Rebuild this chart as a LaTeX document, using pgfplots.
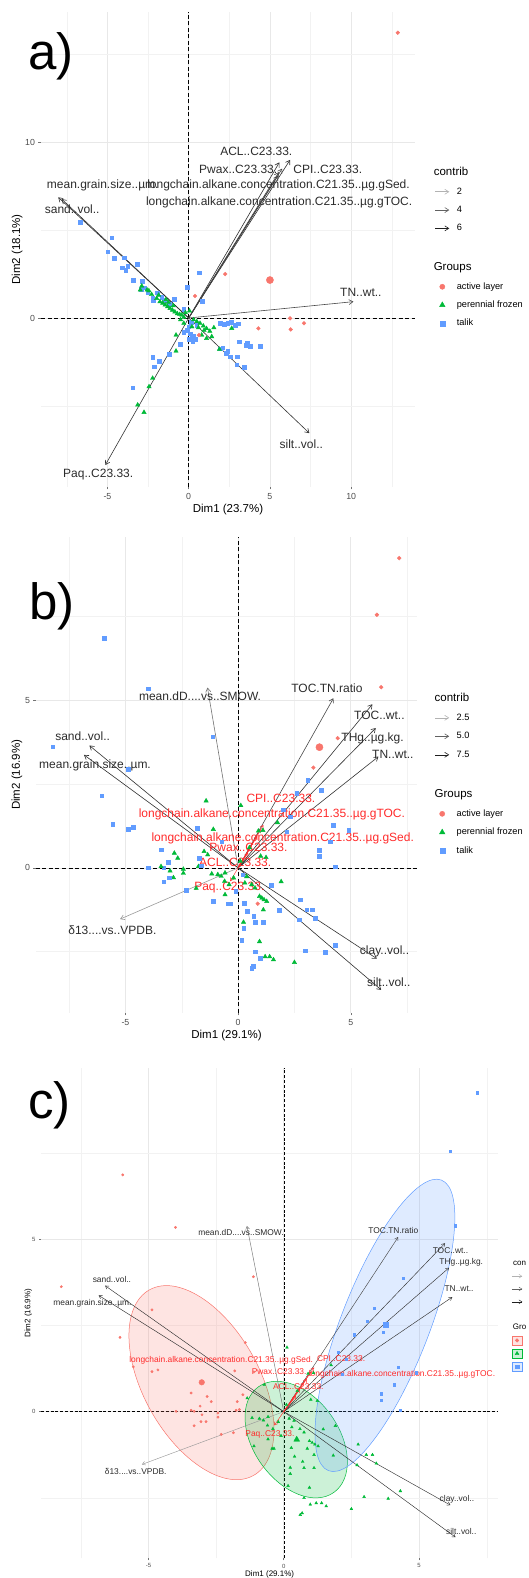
\documentclass[border=0pt]{standalone}
\usepackage{fontspec}
\setmainfont{Liberation Sans}
\usepackage{pgfplots}
\pgfplotsset{compat=1.18}
\usepackage{pgfplotstable}
\usetikzlibrary{arrows.meta}
\definecolor{gA}{HTML}{F8766D}
\definecolor{gF}{HTML}{00BA38}
\definecolor{gT}{HTML}{619CFF}
\definecolor{tk}{HTML}{4D4D4D}
\definecolor{lb}{HTML}{2B2B2B}
\definecolor{sup}{HTML}{FF2A2A}
\newcommand\fs[1]{\fontsize{#1}{#1}\selectfont}

% panel a individuals
\pgfplotstableread{
x y g
-6.69 5.45 T
-4.74 4.57 T
-4.99 3.77 T
-4.60 3.40 T
-3.98 3.43 T
-4.09 2.86 T
-3.88 2.73 T
-3.16 3.07 T
-3.41 2.16 T
-2.93 1.65 T
-2.70 1.72 T
-2.52 1.48 T
-2.22 1.16 T
-2.20 0.98 T
-1.65 1.20 T
-1.50 1.02 T
-0.90 1.06 T
-0.08 1.75 T
0.65 2.58 T
0.84 0.97 T
-0.30 0.50 T
1.93 -0.30 T
2.20 -0.35 T
2.40 -0.28 T
2.62 -0.25 T
2.85 -0.40 T
3.05 -0.32 T
1.93 -1.75 T
2.10 -1.70 T
2.30 -2.00 T
2.55 -2.20 T
2.40 -1.90 T
3.00 -2.20 T
3.40 -2.80 T
2.95 -2.67 T
3.10 -1.35 T
3.60 -1.40 T
3.80 -1.62 T
3.50 -1.55 T
4.40 -1.62 T
-0.10 -0.70 T
0.10 -0.90 T
0.30 -1.00 T
0.40 -1.20 T
0.20 -1.10 T
-0.30 -0.80 T
-0.54 -1.50 T
-1.19 -2.07 T
-1.81 -2.45 T
-2.22 -2.24 T
-2.14 -2.77 T
-3.45 -3.97 T
0.00 -0.50 T
0.50 -0.40 T
0.15 -0.25 T
-3.75 2.95 T
-2.85 2.10 T
-1.95 1.45 T
-1.20 0.80 T
0.25 -1.35 T
0.05 -1.20 T
-2.98 1.60 F
-2.89 1.82 F
-2.56 1.60 F
-2.45 1.55 F
-2.28 1.34 F
-1.97 1.12 F
-1.77 0.93 F
-1.60 0.85 F
-1.45 0.75 F
-1.30 0.64 F
-1.15 0.55 F
-1.00 0.45 F
-0.85 0.35 F
-0.70 0.25 F
-0.55 0.20 F
-0.43 0.17 F
-0.30 0.05 F
-0.20 0.30 F
0.05 0.40 F
0.30 -0.10 F
0.50 -0.20 F
0.70 -0.30 F
0.90 -0.45 F
1.10 -0.60 F
1.30 -0.75 F
1.42 -1.06 F
1.10 -1.16 F
0.80 -0.97 F
1.89 -1.78 F
2.65 -0.59 F
-0.78 -0.97 F
-0.78 -1.88 F
-2.22 -3.43 F
-2.44 -3.91 F
-3.14 -4.95 F
-2.75 -5.37 F
-0.30 -0.30 F
0.20 -0.50 F
-0.50 -0.10 F
-1.25 0.90 F
-1.85 1.30 F
1.55 -0.55 F
-1.40 1.05 F
-0.95 0.70 F
0.60 -0.55 F
0.95 -0.70 F
12.87 16.24 A
2.25 2.50 A
0.39 1.25 A
6.24 -0.02 A
7.10 -0.30 A
6.28 -0.65 A
4.29 -0.59 A
0.63 -0.97 A
}\ptsA

% panels b and c individuals (gb: groups in b, gc: clusters in c)
\pgfplotstableread{
x y gb gc
7.15 9.24 A B
6.16 7.55 A B
6.35 5.39 A B
-5.95 6.86 T R
-4.00 5.34 T R
-1.12 3.91 T R
-8.22 3.62 T R
-4.87 2.95 T R
4.42 3.87 A B
3.34 2.99 A B
3.08 2.62 T B
3.68 2.31 T B
2.60 2.23 T B
-6.05 2.15 T R
-5.56 1.30 T R
-4.87 1.16 T R
-4.65 1.21 T R
-1.42 2.00 F R
-1.10 1.15 F R
-1.81 1.18 T R
-3.42 0.54 T R
-2.83 0.44 F R
-2.68 0.29 F R
-3.09 0.16 T R
-3.31 0.01 T R
-3.42 0.04 F R
-3.98 0.01 T R
-3.02 -0.09 F R
-2.87 -0.29 F R
-3.06 -0.29 T R
-3.31 -0.41 T R
-2.43 -0.04 F R
-2.43 -0.16 F R
-1.72 0.29 T R
-1.76 0.04 F R
-1.64 0.06 T R
-1.35 0.39 F G
-0.72 0.78 T G
-1.51 0.49 F R
-2.31 -0.66 T R
-1.86 -0.61 F R
-1.17 -0.18 F G
-0.90 -0.20 F G
-0.75 -0.25 F G
-0.58 -0.15 F G
-1.10 -1.00 T G
-0.36 -1.07 T G
-0.58 -0.80 F G
-0.43 -1.07 T G
0.12 1.86 F G
2.01 1.73 T B
2.31 1.53 T B
4.23 1.28 T B
4.90 1.13 T B
4.08 0.78 T B
3.61 0.52 T B
3.61 0.34 T B
4.31 0.04 T B
1.75 1.35 F G
0.90 1.10 F G
1.10 1.12 F G
2.16 1.08 T B
1.24 0.31 F G
1.91 -0.41 F G
1.46 -0.51 T G
0.38 -0.26 F G
0.60 -0.50 F G
0.75 -0.60 F G
0.30 -0.45 F G
0.95 -0.85 F G
1.05 -0.90 F G
1.15 -0.95 F G
1.27 -1.00 F G
2.75 -0.95 T G
3.05 -1.25 T G
3.28 -1.25 T G
3.42 -1.50 T G
2.71 -1.55 T G
1.83 -1.27 T G
1.12 -1.25 F G
0.28 -1.05 T G
0.40 -1.30 T G
0.70 -1.45 T G
1.12 -1.63 T G
0.75 -1.63 T G
0.24 -1.62 F G
0.24 -1.80 T G
0.16 -2.15 T G
0.95 -2.20 F G
4.31 -2.30 T G
3.86 -2.52 T G
2.97 -2.47 T G
0.75 -2.50 T G
1.20 -2.65 F G
1.40 -2.65 F G
1.57 -2.74 F G
2.50 -2.82 F G
0.98 -2.69 T G
0.68 -2.94 T G
0.61 -2.99 T G
0.87 -1.07 A G
-0.20 -0.30 F G
0.10 0.20 F G
-0.40 -0.50 F G
0.50 0.60 F G
-0.10 -0.70 T G
0.20 -0.20 T G
-0.60 -0.40 F G
1.00 0.35 F G
}\ptsB

\tikzset{
  arr/.style={-{Straight Barb[length=4pt,width=5pt]}, line width=0.6pt},
  arrc/.style={-{Straight Barb[length=3pt,width=3.8pt]}, line width=0.45pt},
}
\pgfplotsset{
  pca/.style={
    scale only axis, clip=false,
    axis line style={draw=none},
    tick align=outside, xtick pos=bottom, ytick pos=left,
    major tick length=2.5pt, minor tick length=0pt,
    major tick style={black!55, line width=0.5pt},
    grid=both,
    major grid style={black!9, line width=0.6pt},
    minor grid style={black!5, line width=0.35pt},
    tick label style={text=tk},
    legend cell align=left,
  },
  zl/.style={black, line width=0.6pt, dash pattern=on 4pt off 2.5pt, forget plot},
  zlc/.style={black, line width=0.45pt, dash pattern=on 3pt off 1.8pt, forget plot},
  legA/.style={legend image code/.code={\draw[gA, only marks, mark=*, mark size=2.6pt] plot coordinates {(7pt,0pt)}; \path (0pt,0pt) (14pt,0pt);}},
  legF/.style={legend image code/.code={\draw[gF, only marks, mark=triangle*, mark size=3.2pt] plot coordinates {(7pt,0pt)}; \path (0pt,0pt) (14pt,0pt);}},
  legT/.style={legend image code/.code={\draw[gT, only marks, mark=square*, mark size=2.5pt] plot coordinates {(7pt,0pt)}; \path (0pt,0pt) (14pt,0pt);}},
  legcA/.style={legend image code/.code={\draw[gA, fill=gA!20, line width=0.4pt] (0pt,-4.5pt) rectangle (10.5pt,4.5pt); \draw[gA, only marks, mark=*, mark size=1.8pt] plot coordinates {(5.25pt,0pt)};}},
  legcF/.style={legend image code/.code={\draw[gF, fill=gF!20, line width=0.4pt] (0pt,-4.5pt) rectangle (10.5pt,4.5pt); \draw[gF, only marks, mark=triangle*, mark size=2.2pt] plot coordinates {(5.25pt,0pt)};}},
  legcT/.style={legend image code/.code={\draw[gT, fill=gT!20, line width=0.4pt] (0pt,-4.5pt) rectangle (10.5pt,4.5pt); \draw[gT, only marks, mark=square*, mark size=1.7pt] plot coordinates {(5.25pt,0pt)};}},
  legarr/.style={legend image code/.code={\draw[arr, black!#1] (0pt,0pt) -- (14pt,0pt);}},
  legarrc/.style={legend image code/.code={\draw[arrc, black!#1] (0pt,0pt) -- (10.5pt,0pt);}},
  legspace/.style={legend image code/.code={\path[draw=none, fill=none] (0pt,-5pt) (0pt,7.5pt);}},
}

\begin{document}
\begin{tikzpicture}
\useasboundingbox (0pt,0pt) rectangle (528pt,1578pt);

% ================= panel a =================
\begin{axis}[pca,
  at={(41pt,1091pt)}, anchor=south west, width=374pt, height=475pt,
  xmin=-9.09, xmax=13.93, ymin=-9.62, ymax=17.42,
  xtick={-5,0,5,10}, xticklabels={-5,0,5,10},
  minor xtick={-7.5,-2.5,2.5,7.5,12.5},
  ytick={0,10}, yticklabels={0,10},
  minor ytick={-5,5,15},
  tick label style={font=\fs{8.8}},
  xlabel={Dim1 (23.7\%)}, ylabel={Dim2 (18.1\%)},
  label style={font=\fs{11.5}},
  xlabel style={at={(axis description cs:0.5,-0.047)}, anchor=center},
  ylabel style={at={(axis description cs:-0.064,0.5)}, anchor=center},
  legend style={at={(axis description cs:1.0535,0.6695)}, anchor=north west,
    draw=none, fill=none, inner sep=0pt, outer sep=0pt,
    row sep=9.3pt, column sep=7pt, font=\fs{9.2},
    nodes={inner sep=0pt, text height=7pt, text depth=2pt}},
]
\addplot[zl] coordinates {(-9.09,0) (13.93,0)};
\addplot[zl] coordinates {(0,-9.62) (0,17.42)};
\addplot[scatter, only marks, forget plot, scatter src=explicit symbolic,
  scatter/classes={A={mark=*, gA, mark size=1.9pt},
                   F={mark=triangle*, gF, mark size=2.5pt},
                   T={mark=square*, gT, mark size=1.8pt}}]
  table[x=x, y=y, meta=g] {\ptsA};
\addplot[only marks, mark=*, gA, mark size=3.6pt, forget plot] coordinates {(5.0,2.16)};
% variables
\addplot[arr, black!82, forget plot] coordinates {(0,0) (-8.03,6.87)};
\addplot[arr, black!82, forget plot] coordinates {(0,0) (-7.82,6.77)};
\addplot[arr, black!82, forget plot] coordinates {(0,0) (6.24,9.00)};
\addplot[arr, black!82, forget plot] coordinates {(0,0) (5.58,8.86)};
\addplot[arr, black!75, forget plot] coordinates {(0,0) (5.75,8.50)};
\addplot[arr, black!75, forget plot] coordinates {(0,0) (5.55,8.30)};
\addplot[arr, black!75, forget plot] coordinates {(0,0) (5.50,8.10)};
\addplot[arr, black!72, forget plot] coordinates {(0,0) (10.14,0.93)};
\addplot[arr, black!80, forget plot] coordinates {(0,0) (7.43,-6.56)};
\addplot[arr, black!80, forget plot] coordinates {(0,0) (-5.13,-8.37)};
\begin{scope}[every node/.style={font=\fs{12}, text=lb, inner sep=0pt}]
\node at (axis cs:4.16,9.47) {ACL..C23.33.};
\node at (axis cs:3.05,8.46) {Pwax..C23.33.};
\node at (axis cs:8.56,8.46) {CPI..C23.33.};
\node at (axis cs:-5.29,7.53) {mean.grain.size..µm.};
\node at (axis cs:5.53,7.53) {longchain.alkane.concentration.C21.35..µg.gSed.};
\node at (axis cs:5.57,6.56) {longchain.alkane.concentration.C21.35..µg.gTOC.};
\node at (axis cs:-7.17,6.20) {sand..vol..};
\node at (axis cs:10.60,1.44) {TN..wt..};
\node at (axis cs:6.93,-7.19) {silt..vol..};
\node at (axis cs:-5.57,-8.90) {Paq..C23.33.};
\end{scope}
% legend
\addlegendimage{empty legend}\addlegendentry{\hspace*{-23pt}\fs{11.5}contrib}
\addlegendimage{legarr=30}\addlegendentry{2}
\addlegendimage{legarr=62}\addlegendentry{4}
\addlegendimage{legarr=88}\addlegendentry{6}
\addlegendimage{legspace}\addlegendentry{\phantom{x}}
\addlegendimage{empty legend}\addlegendentry{\hspace*{-23pt}\fs{11.5}Groups}
\addlegendimage{legA}\addlegendentry{active layer}
\addlegendimage{legF}\addlegendentry{perennial frozen}
\addlegendimage{legT}\addlegendentry{talik}
\end{axis}

% ================= panel b =================
\begin{axis}[pca,
  at={(36pt,565pt)}, anchor=south west, width=381pt, height=476.3pt,
  xmin=-8.97, xmax=7.94, ymin=-4.33, ymax=9.88,
  xtick={-5,0,5}, xticklabels={-5,0,5},
  minor xtick={-7.5,-2.5,2.5,7.5},
  ytick={0,5}, yticklabels={0,5},
  minor ytick={-2.5,2.5,7.5},
  tick label style={font=\fs{8.8}},
  xlabel={Dim1 (29.1\%)}, ylabel={Dim2 (16.9\%)},
  label style={font=\fs{11.5}},
  xlabel style={at={(axis description cs:0.5,-0.047)}, anchor=center},
  ylabel style={at={(axis description cs:-0.05,0.5)}, anchor=center},
  legend style={at={(axis description cs:1.047,0.668)}, anchor=north west,
    draw=none, fill=none, inner sep=0pt, outer sep=0pt,
    row sep=9.5pt, column sep=7pt, font=\fs{9.2},
    nodes={inner sep=0pt, text height=7pt, text depth=2pt}},
]
\addplot[zl] coordinates {(-8.97,0) (7.94,0)};
\addplot[zl] coordinates {(0,-4.33) (0,9.88)};
\addplot[scatter, only marks, forget plot, scatter src=explicit symbolic,
  scatter/classes={A={mark=*, gA, mark size=1.9pt},
                   F={mark=triangle*, gF, mark size=2.5pt},
                   T={mark=square*, gT, mark size=1.8pt}}]
  table[x=x, y=y, meta=gb] {\ptsB};
\addplot[only marks, mark=*, gA, mark size=3.6pt, forget plot] coordinates {(3.61,3.60)};
% variables
\addplot[arr, black!55, forget plot] coordinates {(0,0) (-1.36,5.38)};
\addplot[arr, black!72, forget plot] coordinates {(0,0) (4.23,5.06)};
\addplot[arr, black!80, forget plot] coordinates {(0,0) (5.96,4.88)};
\addplot[arr, black!80, forget plot] coordinates {(0,0) (6.11,4.17)};
\addplot[arr, black!80, forget plot] coordinates {(0,0) (6.23,3.32)};
\addplot[arr, black!82, forget plot] coordinates {(0,0) (-6.60,3.65)};
\addplot[arr, black!82, forget plot] coordinates {(0,0) (-6.84,3.37)};
\addplot[arr, black!40, forget plot] coordinates {(0,0) (-5.24,-1.53)};
\addplot[arr, black!80, forget plot] coordinates {(0,0) (6.16,-2.71)};
\addplot[arr, black!82, forget plot] coordinates {(0,0) (6.35,-3.64)};
% supplementary variables
\addplot[arrc, sup, forget plot] coordinates {(0,0) (1.12,1.28)};
\addplot[arrc, sup, forget plot] coordinates {(0,0) (1.00,1.15)};
\addplot[arrc, sup, forget plot] coordinates {(0,0) (0.85,0.95)};
\addplot[arrc, sup, forget plot] coordinates {(0,0) (0.60,0.65)};
\addplot[arrc, sup, forget plot] coordinates {(0,0) (0.45,0.45)};
\addplot[arrc, sup, forget plot] coordinates {(0,0) (-0.35,-0.40)};
\begin{scope}[every node/.style={font=\fs{12}, text=lb, inner sep=0pt}]
\node at (axis cs:-1.69,5.11) {mean.dD....vs..SMOW.};
\node at (axis cs:3.94,5.35) {TOC.TN.ratio};
\node at (axis cs:6.27,4.56) {TOC..wt..};
\node at (axis cs:5.97,3.87) {THg..µg.kg.};
\node at (axis cs:6.87,3.39) {TN..wt..};
\node at (axis cs:-6.90,3.92) {sand..vol..};
\node at (axis cs:-6.35,3.07) {mean.grain.size..µm.};
\node at (axis cs:-5.58,-1.87) {δ13....vs..VPDB.};
\node at (axis cs:6.50,-2.50) {clay..vol..};
\node at (axis cs:6.69,-3.42) {silt..vol..};
\end{scope}
\begin{scope}[every node/.style={font=\fs{12}, text=sup, inner sep=0pt}]
\node at (axis cs:1.90,2.08) {CPI..C23.33.};
\node at (axis cs:1.50,1.60) {longchain.alkane.concentration.C21.35..µg.gTOC.};
\node at (axis cs:1.98,0.87) {longchain.alkane.concentration.C21.35..µg.gSed.};
\node at (axis cs:0.46,0.62) {Pwax..C23.33.};
\node at (axis cs:-0.13,0.15) {ACL..C23.33.};
\node at (axis cs:-0.39,-0.59) {Paq..C23.33.};
\end{scope}
% legend
\addlegendimage{empty legend}\addlegendentry{\hspace*{-22pt}\fs{11.5}contrib}
\addlegendimage{legarr=30}\addlegendentry{2.5}
\addlegendimage{legarr=62}\addlegendentry{5.0}
\addlegendimage{legarr=88}\addlegendentry{7.5}
\addlegendimage{legspace}\addlegendentry{\phantom{x}}
\addlegendimage{empty legend}\addlegendentry{\hspace*{-22pt}\fs{11.5}Groups}
\addlegendimage{legA}\addlegendentry{active layer}
\addlegendimage{legF}\addlegendentry{perennial frozen}
\addlegendimage{legT}\addlegendentry{talik}
\end{axis}

% ================= panel c =================
\begin{axis}[pca,
  at={(41pt,19.7pt)}, anchor=south west, width=457.3pt, height=490pt,
  xmin=-8.97, xmax=7.93, ymin=-4.25, ymax=9.95,
  xtick={-5,0,5}, xticklabels={-5,0,5},
  minor xtick={-7.5,-2.5,2.5,7.5},
  ytick={0,5}, yticklabels={0,5},
  minor ytick={-2.5,2.5,7.5},
  major tick length=2pt,
  tick label style={font=\fs{6}},
  xlabel={Dim1 (29.1\%)}, ylabel={Dim2 (16.9\%)},
  label style={font=\fs{8}},
  xlabel style={at={(axis description cs:0.5,-0.032)}, anchor=center},
  ylabel style={at={(axis description cs:-0.028,0.5)}, anchor=center},
  legend style={at={(axis description cs:1.029,0.611)}, anchor=north west,
    draw=none, fill=none, inner sep=0pt, outer sep=0pt,
    row sep=3.8pt, column sep=5pt, font=\fs{6.5},
    nodes={inner sep=0pt, text height=6.5pt, text depth=2.5pt}},
]
\addplot[zlc] coordinates {(-8.97,0) (7.93,0)};
\addplot[zlc] coordinates {(0,-4.25) (0,9.95)};
\draw[gA, line width=0.5pt, fill=gA, fill opacity=0.2] (axis cs:-3.04,0.84) circle [x radius=106.4pt, y radius=57.9pt, rotate=-60.7];
\draw[gF, line width=0.5pt, fill=gF, fill opacity=0.2] (axis cs:0.46,-0.81) circle [x radius=64.9pt, y radius=42.5pt, rotate=-54.4];
\draw[gT, line width=0.5pt, fill=gT, fill opacity=0.2] (axis cs:3.74,2.50) circle [x radius=155.9pt, y radius=44.2pt, rotate=68.75];
\addplot[scatter, only marks, forget plot, scatter src=explicit symbolic,
  scatter/classes={R={mark=*, gA, mark size=1.2pt},
                   G={mark=triangle*, gF, mark size=1.6pt},
                   B={mark=square*, gT, mark size=1.1pt}}]
  table[x=x, y=y, meta=gc] {\ptsB};
\addplot[only marks, mark=*, gA, mark size=2.8pt, forget plot] coordinates {(-3.03,0.85)};
\addplot[only marks, mark=triangle*, gF, mark size=3.4pt, forget plot] coordinates {(0.48,-0.81)};
\addplot[only marks, mark=square*, gT, mark size=2.6pt, forget plot] coordinates {(3.77,2.52)};
% variables
\addplot[arrc, black!55, forget plot] coordinates {(0,0) (-1.36,5.38)};
\addplot[arrc, black!72, forget plot] coordinates {(0,0) (4.23,5.06)};
\addplot[arrc, black!80, forget plot] coordinates {(0,0) (5.96,4.88)};
\addplot[arrc, black!80, forget plot] coordinates {(0,0) (6.11,4.17)};
\addplot[arrc, black!80, forget plot] coordinates {(0,0) (6.23,3.32)};
\addplot[arrc, black!82, forget plot] coordinates {(0,0) (-6.60,3.65)};
\addplot[arrc, black!82, forget plot] coordinates {(0,0) (-6.84,3.37)};
\addplot[arrc, black!40, forget plot] coordinates {(0,0) (-5.24,-1.53)};
\addplot[arrc, black!80, forget plot] coordinates {(0,0) (6.16,-2.71)};
\addplot[arrc, black!82, forget plot] coordinates {(0,0) (6.35,-3.64)};
\addplot[arrc, sup, forget plot] coordinates {(0,0) (1.12,1.28)};
\addplot[arrc, sup, forget plot] coordinates {(0,0) (1.00,1.15)};
\addplot[arrc, sup, forget plot] coordinates {(0,0) (0.85,0.95)};
\addplot[arrc, sup, forget plot] coordinates {(0,0) (0.60,0.65)};
\addplot[arrc, sup, forget plot] coordinates {(0,0) (0.45,0.45)};
\addplot[arrc, sup, forget plot] coordinates {(0,0) (-0.35,-0.40)};
\begin{scope}[every node/.style={font=\fs{8.4}, text=lb, inner sep=0pt}]
\node at (axis cs:-1.58,5.18) {mean.dD....vs..SMOW.};
\node at (axis cs:4.05,5.25) {TOC.TN.ratio};
\node at (axis cs:6.16,4.67) {TOC..wt..};
\node at (axis cs:6.56,4.32) {THg..µg.kg.};
\node at (axis cs:6.48,3.55) {TN..wt..};
\node at (axis cs:-6.35,3.84) {sand..vol..};
\node at (axis cs:-7.07,3.15) {mean.grain.size..µm.};
\node at (axis cs:-5.47,-1.73) {δ13....vs..VPDB.};
\node at (axis cs:6.40,-2.55) {clay..vol..};
\node at (axis cs:6.56,-3.48) {silt..vol..};
\end{scope}
\begin{scope}[every node/.style={font=\fs{8.4}, text=sup, inner sep=0pt}]
\node at (axis cs:-2.31,1.48) {longchain.alkane.concentration.C21.35..µg.gSed.};
\node at (axis cs:2.12,1.53) {CPI..C23.33.};
\node at (axis cs:-0.17,1.15) {Pwax..C23.33.};
\node at (axis cs:4.37,1.07) {longchain.alkane.concentration.C21.35..µg.gTOC.};
\node at (axis cs:0.54,0.73) {ACL..C23.33.};
\node at (axis cs:-0.51,-0.67) {Paq..C23.33.};
\end{scope}
% legend (only its left edge is inside the page, as in the reference)
\addlegendimage{empty legend}\addlegendentry{\hspace*{-17pt}\fs{8}con}
\addlegendimage{legarrc=30}\addlegendentry{\phantom{x}}
\addlegendimage{legarrc=62}\addlegendentry{\phantom{x}}
\addlegendimage{legarrc=88}\addlegendentry{\phantom{x}}
\addlegendimage{empty legend}\addlegendentry{\phantom{x}}
\addlegendimage{empty legend}\addlegendentry{\hspace*{-17pt}\fs{8}Gro}
\addlegendimage{legcA}\addlegendentry{\phantom{x}}
\addlegendimage{legcF}\addlegendentry{\phantom{x}}
\addlegendimage{legcT}\addlegendentry{\phantom{x}}
\end{axis}

% panel tags
\node[anchor=base west, font=\fs{51}, inner sep=0pt] at (28pt,1508pt) {a)};
\node[anchor=base west, font=\fs{51}, inner sep=0pt] at (29pt,958pt) {b)};
\node[anchor=base west, font=\fs{51}, inner sep=0pt] at (28pt,459.7pt) {c)};
\end{tikzpicture}
\end{document}
